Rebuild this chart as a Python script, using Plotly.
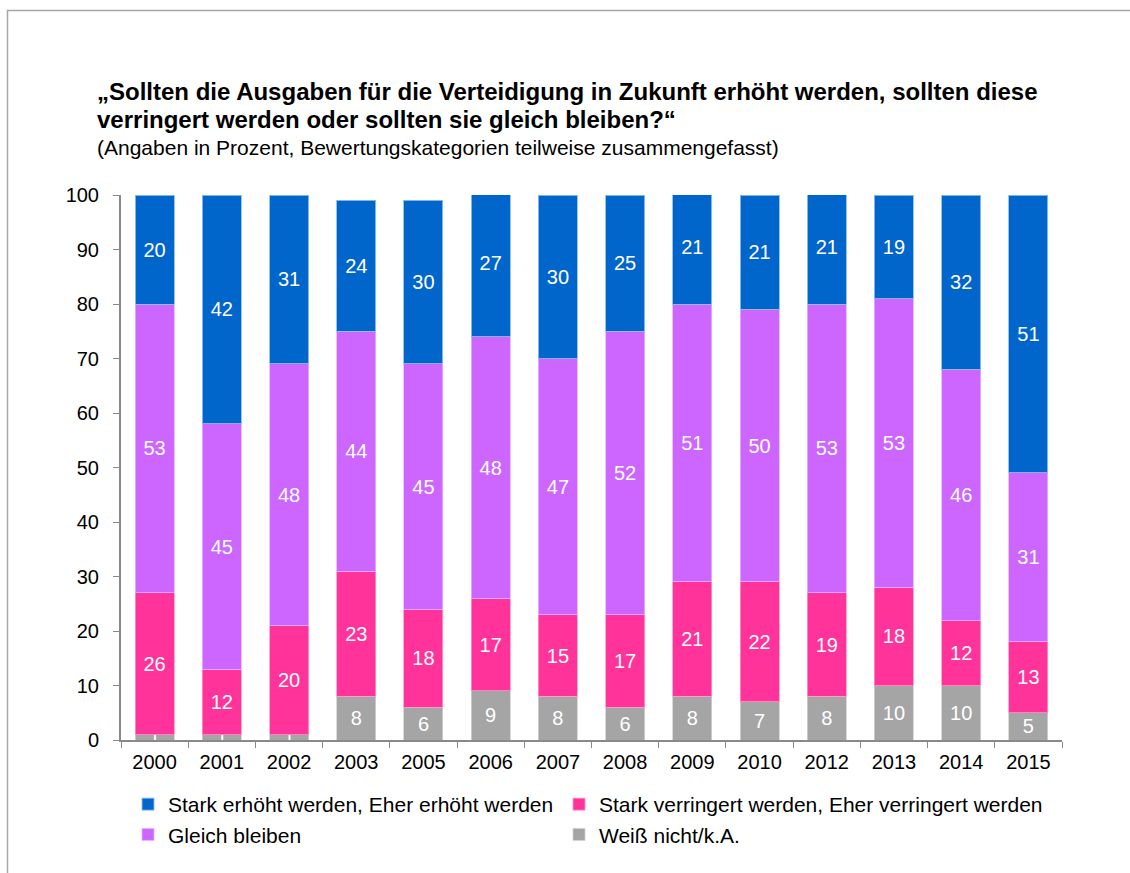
import plotly.graph_objects as go

# Survey years (category axis)
years = ["2000", "2001", "2002", "2003", "2005", "2006", "2007",
         "2008", "2009", "2010", "2012", "2013", "2014", "2015"]

# Shares in percent per answer group
weiss_nicht = [1, 1, 1, 8, 6, 9, 8, 6, 8, 7, 8, 10, 10, 5]
verringert = [26, 12, 20, 23, 18, 17, 15, 17, 21, 22, 19, 18, 12, 13]
gleich = [53, 45, 48, 44, 45, 48, 47, 52, 51, 50, 53, 53, 46, 31]
erhoeht = [20, 42, 31, 24, 30, 27, 30, 25, 21, 21, 21, 19, 32, 51]

FONT = "Liberation Sans, Arial, sans-serif"

# Stack order bottom -> top; each legend column is its own legend box
series = [
    ("Weiß nicht/k.A.", weiss_nicht, "#A5A5A5", "rgba(210,210,210,0.8)", "legend2", 2),
    ("Stark verringert werden, Eher verringert werden", verringert, "#FF3399", "rgba(255,150,200,0.8)", "legend2", 1),
    ("Gleich bleiben", gleich, "#CC66FF", "rgba(230,180,255,0.8)", "legend", 2),
    ("Stark erhöht werden, Eher erhöht werden", erhoeht, "#0066CC", "rgba(140,190,240,0.9)", "legend", 1),
]

fig = go.Figure()
for name, vals, color, edge, leg, rank in series:
    fig.add_trace(go.Bar(
        x=years, y=vals, name=name,
        marker=dict(color=color, line=dict(color=edge, width=1)),
        text=[str(v) for v in vals],
        textposition="inside", insidetextanchor="middle", textangle=0,
        textfont=dict(family=FONT, size=20, color="white"),
        legend=leg, legendrank=rank,
        hoverinfo="x+y+name",
    ))

L, R, T, B = 121, 68, 195, 133
W, H = 1130, 873
pw, ph = W - L - R, H - T - B


def px_x(p):
    return (p - L) / pw


def px_y(p):
    return (H - B - p) / ph


legend_style = dict(
    orientation="v", xanchor="left", yanchor="top",
    font=dict(family=FONT, size=21, color="black"),
    traceorder="normal", bgcolor="rgba(0,0,0,0)", tracegroupgap=0,
)

fig.update_layout(
    width=W, height=H,
    margin=dict(l=L, r=R, t=T, b=B, pad=0),
    barmode="stack", bargap=0.42,
    plot_bgcolor="white", paper_bgcolor="white",
    font=dict(family=FONT, color="black"),
    uniformtext=dict(minsize=20, mode="show"),
    showlegend=True,
    legend=dict(x=px_x(128), y=px_y(784), **legend_style),
    legend2=dict(x=px_x(559), y=px_y(784), **legend_style),
    xaxis=dict(
        type="category", showgrid=False, showline=True, linecolor="#898989", linewidth=2,
        ticks="outside", tickson="boundaries", ticklen=6, tickcolor="#898989", tickwidth=1,
        tickfont=dict(family=FONT, size=20, color="black"), ticklabelstandoff=3,
    ),
    yaxis=dict(
        range=[0, 100], dtick=10, showgrid=False, showline=True, linecolor="#898989", linewidth=2,
        ticks="outside", ticklen=6, tickcolor="#898989", tickwidth=1,
        tickfont=dict(family=FONT, size=20, color="black"), zeroline=False,
        ticklabelstandoff=10,
    ),
)

# Frame around the chart
fig.add_shape(type="rect", xref="paper", yref="paper",
              x0=px_x(7.5), x1=px_x(1200), y0=px_y(10.5), y1=px_y(950),
              line=dict(color="#A6A6A6", width=1.5), fillcolor="rgba(0,0,0,0)", layer="below")

title_lines = [
    ("<b>„Sollten die Ausgaben für die Verteidigung in Zukunft erhöht werden, sollten diese</b>", 92, 24),
    ("<b>verringert werden oder sollten sie gleich bleiben?“</b>", 119, 24),
    ("(Angaben in Prozent, Bewertungskategorien teilweise zusammengefasst)", 147, 21),
]
for txt, yc, size in title_lines:
    fig.add_annotation(text=txt, xref="paper", yref="paper", x=px_x(95), y=px_y(yc),
                       xanchor="left", yanchor="middle", showarrow=False,
                       font=dict(family=FONT, size=size, color="black"))

fig.write_html("out.html")
